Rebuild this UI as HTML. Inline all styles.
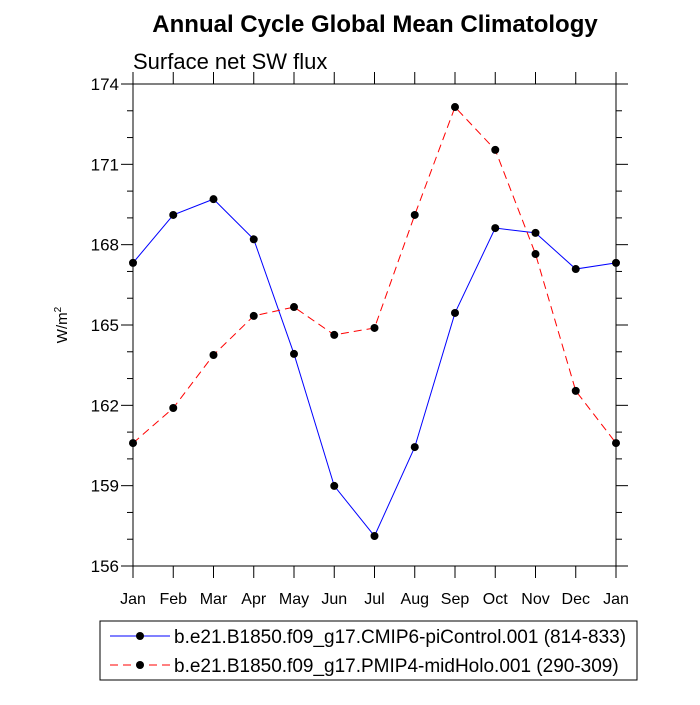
<!DOCTYPE html>
<html><head><meta charset="utf-8"><style>
body{margin:0;background:#fff;font-family:"Liberation Sans",sans-serif}
</style></head><body>
<svg id="c" width="700" height="700" xmlns="http://www.w3.org/2000/svg" font-family="Liberation Sans, sans-serif">
<text x="375" y="32" text-anchor="middle" font-size="24" font-weight="bold">Annual Cycle Global Mean Climatology</text>
<text x="133" y="69" font-size="22">Surface net SW flux</text>
<text transform="translate(67,325) rotate(-90)" text-anchor="middle" font-size="15">W/m<tspan dy="-6" font-size="10">2</tspan></text>
<g id="axes"></g>
<g id="series"></g>
<rect x="100" y="621" width="537" height="59" fill="none" stroke="#000" stroke-width="1"/>
<line x1="110" y1="636" x2="170" y2="636" stroke="#00f"/>
<circle cx="140" cy="636" r="4"/>
<text x="174" y="643" font-size="19">b.e21.B1850.f09_g17.CMIP6-piControl.001 (814-833)</text>
<line x1="110" y1="665" x2="170" y2="665" stroke="#f00" stroke-dasharray="8,5"/>
<circle cx="140" cy="665" r="4"/>
<text x="174" y="672" font-size="19">b.e21.B1850.f09_g17.PMIP4-midHolo.001 (290-309)</text>
</svg>
<script>
const months=["Jan","Feb","Mar","Apr","May","Jun","Jul","Aug","Sep","Oct","Nov","Dec","Jan"];
const piControl=[167.32,169.11,169.7,168.2,163.92,158.99,157.12,160.44,165.45,168.62,168.44,167.09,167.32];
const midHolo=[160.59,161.9,163.88,165.34,165.67,164.63,164.89,169.11,173.14,171.54,167.65,162.54,160.59];
const yTicks=[156,159,162,165,168,171,174];
const X0=133,X1=616,Y0=566,Y1=84,YMIN=156,YMAX=174;
const xs=i=>X0+(X1-X0)*i/(months.length-1);
const ys=v=>Y0-(v-YMIN)/(YMAX-YMIN)*(Y0-Y1);
const NS="http://www.w3.org/2000/svg";
function mk(t,a,p){const e=document.createElementNS(NS,t);for(const k in a)e.setAttribute(k,a[k]);p.appendChild(e);return e;}
const ax=document.getElementById('axes'),se=document.getElementById('series');
const fr=mk('rect',{x:X0,y:Y1,width:X1-X0,height:Y0-Y1,fill:'none',stroke:'#000','stroke-width':1},ax);


for(let v=YMIN;v<=YMAX;v++){const y=ys(v);const L=(v-YMIN)%3===0?12:6;
 const t1=mk('line',{x1:X0-L,y1:y,x2:X0,y2:y,stroke:'#000'},ax);
 
 
 const t2=mk('line',{x1:X1,y1:y,x2:X1+L,y2:y,stroke:'#000'},ax);
 
 }
yTicks.forEach(v=>{const t=mk('text',{x:X0-14,y:ys(v)+6,'text-anchor':'end','font-size':17},ax);t.textContent=v;
 
 });
months.forEach((m,i)=>{const x=xs(i);
 const a=mk('line',{x1:x,y1:Y0,x2:x,y2:Y0+12,stroke:'#000'},ax);
 
 
 const b=mk('line',{x1:x,y1:Y1-12,x2:x,y2:Y1,stroke:'#000'},ax);
 
 
 const t=mk('text',{x:x,y:Y0+38,'text-anchor':'middle','font-size':16},ax);t.textContent=m;
 
 });
function draw(vals,col,dash,name){
 const pl=mk('polyline',{points:vals.map((v,i)=>xs(i)+','+ys(v)).join(' '),fill:'none',stroke:col,'stroke-width':1,'stroke-dasharray':dash},se);
 
 
 vals.forEach((v,i)=>{const c=mk('circle',{cx:xs(i),cy:ys(v),r:4,fill:'#000'},se);
  
  });
}
draw(piControl,'#00f','none','picontrol');
draw(midHolo,'#f00','8,5','midholo');
</script>
</body></html>
